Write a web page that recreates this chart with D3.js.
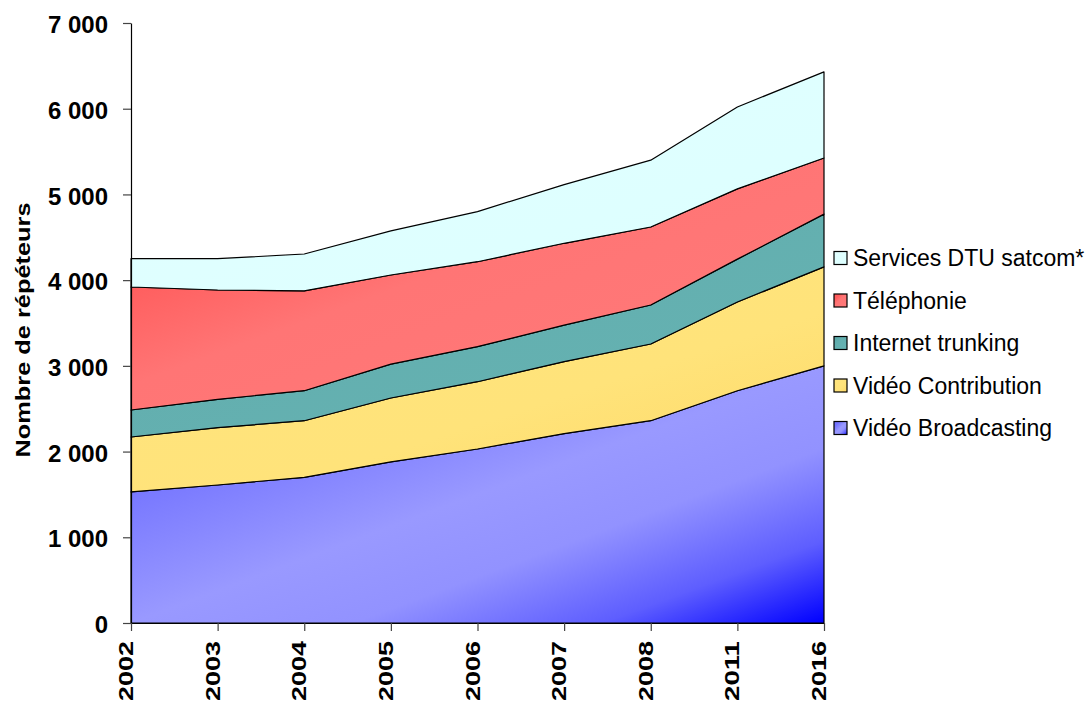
<!DOCTYPE html>
<html>
<head>
<meta charset="utf-8">
<script src="https://cdn.jsdelivr.net/npm/d3@7"></script>
<style>
  html, body { margin: 0; padding: 0; background: #fff; }
  svg { display: block; font-family: "Liberation Sans", Arial, sans-serif; }
</style>
</head>
<body>
<svg id="chart" width="1085" height="701"></svg>
<script>
// Years on the horizontal axis
const years = ["2002", "2003", "2004", "2005", "2006", "2007", "2008", "2011", "2016"];

// Number of transponders per application (stacked bottom to top)
const videoBroadcasting = [1530, 1610, 1700, 1880, 2030, 2210, 2360, 2710, 3000];
const videoContribution = [640, 670, 660, 745, 785, 840, 895, 1035, 1155];
const internetTrunking  = [315, 330, 350, 395, 410, 425, 455, 500, 615];
const telephonie        = [1435, 1275, 1165, 1040, 990, 955, 910, 820, 655];
const servicesDTU       = [330, 365, 430, 515, 585, 685, 780, 955, 1005];

const seriesNames = ["Vidéo Broadcasting", "Vidéo Contribution", "Internet trunking", "Téléphonie", "Services DTU satcom*"];
const seriesValues = [videoBroadcasting, videoContribution, internetTrunking, telephonie, servicesDTU];

const yTicks = [0, 1000, 2000, 3000, 4000, 5000, 6000, 7000];
const yTitle = "Nombre de répéteurs";

// Gradient fills for each band
const gradients = {
  "Vidéo Broadcasting":   [[0, "#6e6eff"], [0.22, "#7474ff"], [0.5, "#9999ff"], [0.66, "#9292ff"], [0.84, "#5e5eff"], [1, "#0000ff"]],
  "Vidéo Contribution":   [[0, "#ffe47e"], [0.6, "#ffe37a"], [1, "#fdd865"]],
  "Internet trunking":    [[0, "#58a6a6"], [0.4, "#63afaf"], [1, "#66b3b3"]],
  "Téléphonie":           [[0, "#ff5252"], [0.25, "#ff5e5e"], [0.45, "#ff7575"], [1, "#ff7a7a"]],
  "Services DTU satcom*": [[0, "#e2ffff"], [1, "#dcffff"]]
};

const svg = d3.select("#chart");
const margin = { left: 131, right: 824, top: 23, bottom: 623 };

const x = d3.scalePoint().domain(years).range([margin.left, margin.right]).padding(0);
const y = d3.scaleLinear().domain([0, 7000]).range([margin.bottom, margin.top]);

// Build rows for stacking
const rows = years.map((yr, i) => {
  const r = { year: yr };
  seriesNames.forEach((n, k) => { r[n] = seriesValues[k][i]; });
  return r;
});
const stacked = d3.stack().keys(seriesNames)(rows);

const defs = svg.append("defs");
const gradId = name => "g" + seriesNames.indexOf(name);
seriesNames.forEach(name => {
  const g = defs.append("linearGradient")
    .attr("id", gradId(name))
    .attr("x1", 0).attr("y1", 0).attr("x2", 1).attr("y2", 1);
  gradients[name].forEach(([o, c]) => g.append("stop").attr("offset", o).attr("stop-color", c));
});

const area = d3.area()
  .x(d => x(d.data.year))
  .y0(d => y(d[0]))
  .y1(d => y(d[1]));

svg.append("g").selectAll("path")
  .data(stacked)
  .join("path")
  .attr("d", area)
  .attr("fill", d => `url(#${gradId(d.key)})`)
  .attr("stroke", "#000")
  .attr("stroke-width", 1.2)
  .attr("stroke-linejoin", "round");

// Y axis
const fmt = v => d3.format(",")(v).replace(/,/g, " ");
const yAxis = svg.append("g")
  .attr("transform", `translate(${margin.left},0)`)
  .call(d3.axisLeft(y).tickValues(yTicks).tickFormat(fmt).tickSize(8).tickSizeOuter(0).tickPadding(15));
yAxis.select(".domain").attr("stroke", "#000").attr("stroke-width", 1.2);
yAxis.selectAll(".tick line").attr("stroke", "#444").attr("stroke-width", 1.2);
yAxis.selectAll(".tick text")
  .attr("font-family", "'Liberation Sans', Arial, sans-serif")
  .attr("font-size", 24).attr("font-weight", "bold").attr("fill", "#000")
  .attr("dy", "0.4em");

// X axis
const xAxis = svg.append("g")
  .attr("transform", `translate(0,${margin.bottom})`)
  .call(d3.axisBottom(x).tickSize(8).tickSizeOuter(0).tickFormat(() => ""));
xAxis.select(".domain").attr("stroke", "#000").attr("stroke-width", 1.2);
xAxis.selectAll(".tick line").attr("stroke", "#444").attr("stroke-width", 1.2);

// Rotated year labels
svg.append("g").selectAll("text")
  .data(years)
  .join("text")
  .attr("transform", d => `translate(${x(d) + 2},${margin.bottom + 18}) rotate(-90)`)
  .attr("text-anchor", "end")
  .attr("font-size", 21).attr("font-weight", "bold")
  .attr("textLength", 60).attr("lengthAdjust", "spacingAndGlyphs")
  .text(d => d);

// Y axis title
svg.append("text")
  .attr("transform", `translate(30,330) rotate(-90)`)
  .attr("text-anchor", "middle")
  .attr("font-size", 20).attr("font-weight", "bold")
  .attr("textLength", 255).attr("lengthAdjust", "spacingAndGlyphs")
  .text(yTitle);

// Legend (top series first)
const legendNames = seriesNames.slice().reverse();
const legend = svg.append("g");
legendNames.forEach((name, i) => {
  const cy = 258 + i * 42.5;
  legend.append("rect")
    .attr("x", 834).attr("y", cy - 6.5)
    .attr("width", 13).attr("height", 13)
    .attr("fill", `url(#${gradId(name)})`)
    .attr("stroke", "#000").attr("stroke-width", 1.2);
  legend.append("text")
    .attr("x", 853).attr("y", cy)
    .attr("dy", "0.36em")
    .attr("font-size", 23)
    .attr("fill", "#000")
    .text(name);
});
</script>
</body>
</html>
